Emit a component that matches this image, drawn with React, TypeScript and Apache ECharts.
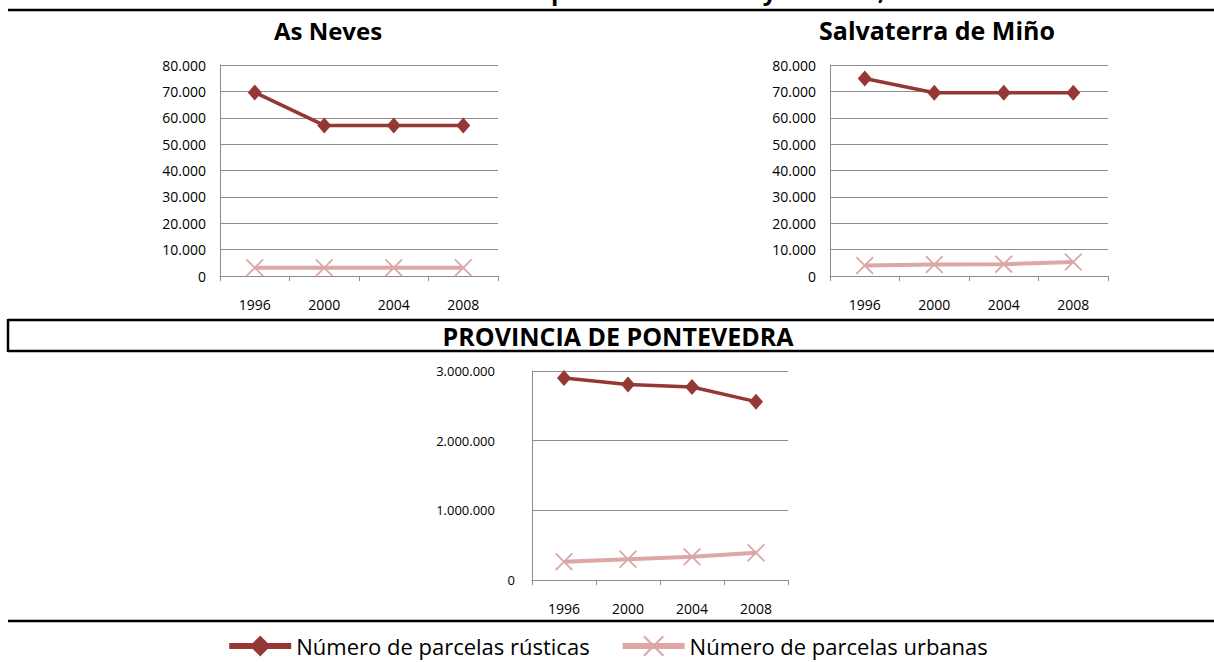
import React, { useEffect, useRef } from "react";
import * as echarts from "echarts";

const years = ["1996", "2000", "2004", "2008"];

const asNevesRusticas = [69600, 57100, 57100, 57100];
const asNevesUrbanas = [3100, 3100, 3100, 3100];

const salvaterraRusticas = [74900, 69500, 69500, 69500];
const salvaterraUrbanas = [4000, 4400, 4500, 5300];

const pontevedraRusticas = [2900000, 2805000, 2771000, 2560000];
const pontevedraUrbanas = [262000, 297000, 334000, 391000];

const titleMain = "Evolución del número de parcelas urbanas y rústicas, 1996-2008";
const titleAsNeves = "As Neves";
const titleSalvaterra = "Salvaterra de Miño";
const titleProvincia = "PROVINCIA DE PONTEVEDRA";
const nameRusticas = "Número de parcelas rústicas";
const nameUrbanas = "Número de parcelas urbanas";

const RUST = "#953735";
const URB = "#DCA7A6";
const GRID = "#8C8C8C";
const FONT = "'Open Sans', sans-serif";

const fmt = (v: number) =>
  String(Math.round(v)).replace(/\B(?=(\d{3})+(?!\d))/g, ".");

const CROSS =
  "path://M0,0.7L0.7,0L5,4.3L9.3,0L10,0.7L5.7,5L10,9.3L9.3,10L5,5.7L0.7,10L0,9.3L4.3,5Z";

export default function App() {
  const ref = useRef<HTMLDivElement>(null);
  useEffect(() => {
    if (!ref.current) return;
    const chart = echarts.init(ref.current, undefined, { renderer: "svg" });

    const grids = [
      { left: 220, top: 65, width: 278, height: 211 },
      { left: 830, top: 65, width: 278, height: 211 },
      { left: 532, top: 371, width: 256, height: 209 },
    ];

    const xAxes = grids.map((_, i) => ({
      type: "category",
      gridIndex: i,
      data: years,
      boundaryGap: true,
      axisLine: { show: true, lineStyle: { color: GRID, width: 1 } },
      axisTick: { show: true, length: 5, lineStyle: { color: GRID } },
      axisLabel: { color: "#000", fontSize: 14, fontFamily: FONT, margin: 21 },
    }));

    const yAxes: any[] = [0, 1].map((i) => ({
      type: "value",
      gridIndex: i,
      min: 0,
      max: 80000,
      interval: 10000,
      axisLine: { show: true, lineStyle: { color: GRID, width: 1 } },
      axisTick: { show: false },
      splitLine: { show: true, lineStyle: { color: GRID, width: 1 } },
      axisLabel: {
        color: "#000",
        fontSize: 14,
        fontFamily: FONT,
        margin: 14,
        formatter: (v: number) => fmt(v),
      },
    }));
    yAxes.push({
      type: "value",
      gridIndex: 2,
      min: 0,
      max: 3000000,
      interval: 1000000,
      axisLine: { show: true, lineStyle: { color: GRID, width: 1 } },
      axisTick: { show: false },
      splitLine: { show: true, lineStyle: { color: GRID, width: 1 } },
      axisLabel: {
        color: "#000",
        fontSize: 13,
        fontFamily: FONT,
        margin: 17,
        formatter: (v: number) => (v === 0 ? "0" : "{a|" + fmt(v) + "}"),
        rich: { a: { fontSize: 13, fontFamily: FONT, color: "#000", padding: [0, 20, 0, 0] } },
      },
    });

    const rust = (data: number[], i: number) => ({
      type: "line",
      name: nameRusticas,
      xAxisIndex: i,
      yAxisIndex: i,
      data,
      symbol: "diamond",
      symbolSize: [14, 16],
      lineStyle: { color: RUST, width: 3.5 },
      itemStyle: { color: RUST },
      z: 3,
    });
    const urb = (data: number[], i: number) => ({
      type: "line",
      name: nameUrbanas,
      xAxisIndex: i,
      yAxisIndex: i,
      data,
      symbol: CROSS,
      symbolSize: 18,
      lineStyle: { color: URB, width: 4 },
      itemStyle: { color: URB },
      z: 2,
    });

    const line = (x1: number, y1: number, x2: number, y2: number) => ({
      type: "line",
      shape: { x1, y1, x2, y2 },
      style: { stroke: "#000", lineWidth: 2.5 },
      silent: true,
    });
    const title = (text: string, x: number, y: number, size: number) => ({
      type: "text",
      x,
      y,
      style: {
        text,
        fill: "#000",
        font: `bold ${size}px ${FONT}`,
        align: "center",
        verticalAlign: "middle",
      },
      silent: true,
    });

    chart.setOption({
      animation: false,
      backgroundColor: "#fff",
      grid: grids,
      xAxis: xAxes,
      yAxis: yAxes,
      legend: {
        data: [nameRusticas, nameUrbanas],
        left: "center",
        top: 630,
        itemWidth: 62,
        itemHeight: 26,
        itemGap: 30,
        lineStyle: { width: 6 },
        textStyle: { color: "#000", fontSize: 22, fontFamily: FONT },
      },
      series: [
        urb(asNevesUrbanas, 0),
        rust(asNevesRusticas, 0),
        urb(salvaterraUrbanas, 1),
        rust(salvaterraRusticas, 1),
        urb(pontevedraUrbanas, 2),
        rust(pontevedraRusticas, 2),
      ],
      graphic: [
        {
          type: "text",
          x: 629,
          y: 2,
          style: {
            text: titleMain,
            fill: "#000",
            font: `bold 24px ${FONT}`,
            align: "center",
            verticalAlign: "bottom",
          },
          silent: true,
        },
        line(8, 10, 1214, 10),
        title(titleAsNeves, 328, 30, 24),
        title(titleSalvaterra, 937, 30, 25),
        line(8, 320, 1214, 320),
        line(8, 351, 1214, 351),
        line(8, 319, 8, 352),
        title(titleProvincia, 618, 336, 25),
        line(8, 621, 1214, 621),
      ],
    });
    return () => chart.dispose();
  }, []);
  return (
    <div
      ref={ref}
      style={{ position: "fixed", left: 0, top: 0, width: 1214, height: 662, background: "#fff" }}
    />
  );
}
